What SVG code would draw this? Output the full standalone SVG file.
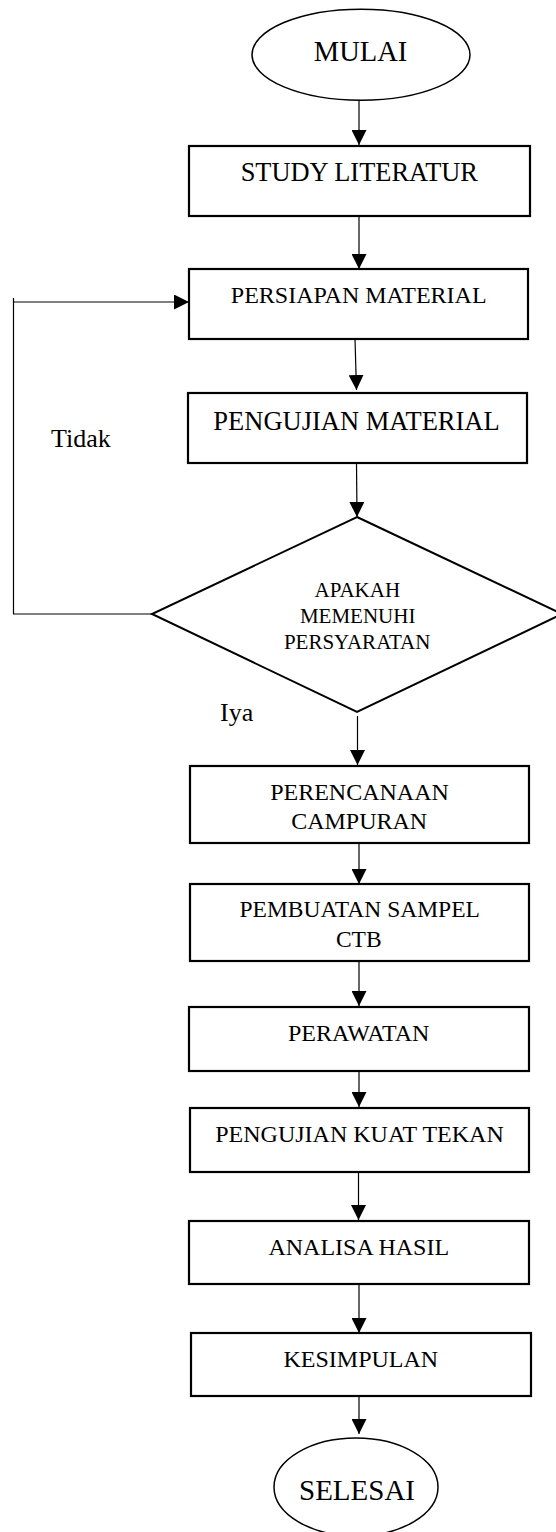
<svg xmlns="http://www.w3.org/2000/svg" width="556" height="1532" viewBox="0 0 556 1532">
<style>
  .box { fill: #fff; stroke: #000; stroke-width: 2.2; }
  .term { fill: #fff; stroke: #000; stroke-width: 1.5; }
  .dia { fill: #fff; stroke: #000; stroke-width: 2; }
  .con { fill: none; stroke: #000; stroke-width: 1.2; }
  .t { font-family: "Liberation Serif", "Times New Roman", serif; fill: #000; text-anchor: middle; }
  .lbl { font-family: "Liberation Serif", "Times New Roman", serif; fill: #000; font-size: 26px; }
</style>
<defs>
  <marker id="arr" markerUnits="userSpaceOnUse" markerWidth="15" markerHeight="15" refX="15" refY="7.5" orient="auto" viewBox="0 0 15 15">
    <path d="M0,0 L15,7.5 L0,15 Z" fill="#000"/>
  </marker>
</defs>
<rect width="556" height="1532" fill="#fff"/>

<g id="connectors">
  <line class="con" x1="359" y1="100" x2="359" y2="145" marker-end="url(#arr)"/>
  <line class="con" x1="359" y1="216" x2="359" y2="269" marker-end="url(#arr)"/>
  <line class="con" x1="355" y1="339" x2="356.5" y2="390" marker-end="url(#arr)"/>
  <line class="con" x1="356.5" y1="463" x2="357" y2="517" marker-end="url(#arr)"/>
  <line class="con" x1="357.5" y1="716" x2="357.5" y2="765" marker-end="url(#arr)"/>
  <line class="con" x1="359" y1="843" x2="359" y2="884" marker-end="url(#arr)"/>
  <line class="con" x1="359" y1="961" x2="359" y2="1006" marker-end="url(#arr)"/>
  <line class="con" x1="359" y1="1071" x2="359" y2="1107" marker-end="url(#arr)"/>
  <line class="con" x1="358.5" y1="1172" x2="358.5" y2="1220" marker-end="url(#arr)"/>
  <line class="con" x1="359" y1="1284" x2="359" y2="1333" marker-end="url(#arr)"/>
  <line class="con" x1="359" y1="1396" x2="359" y2="1434" marker-end="url(#arr)"/>
  <polyline class="con" points="152,614 13.5,614 13.5,298"/>
  <line class="con" x1="13.5" y1="302" x2="189" y2="302" marker-end="url(#arr)"/>
  <text class="lbl" x="51" y="447">Tidak</text>
  <text class="lbl" x="220" y="721">Iya</text>
</g>

<g id="mulai">
  <ellipse class="term" cx="361" cy="54.7" rx="109" ry="45.5"/>
  <text class="t" x="360.5" y="61" font-size="28.5">MULAI</text>
</g>

<g id="study">
  <rect class="box" x="189" y="146" width="341" height="70"/>
  <text class="t" x="359.3" y="181" font-size="26.4">STUDY LITERATUR</text>
</g>

<g id="persiapan">
  <rect class="box" x="189" y="269" width="339" height="70"/>
  <text class="t" x="358.7" y="303" font-size="24">PERSIAPAN MATERIAL</text>
</g>

<g id="pengujian">
  <rect class="box" x="188" y="393" width="339" height="70"/>
  <text class="t" x="356.5" y="430" font-size="26.5">PENGUJIAN MATERIAL</text>
</g>

<g id="keputusan">
  <polygon class="dia" points="357,517 562,614 357,712 152,614"/>
  <text class="t" x="357.3" y="596.7" font-size="21">APAKAH</text>
  <text class="t" x="357.7" y="623.3" font-size="21">MEMENUHI</text>
  <text class="t" x="357.2" y="649.3" font-size="21">PERSYARATAN</text>
</g>

<g id="perencanaan">
  <rect class="box" x="190" y="766" width="339" height="77"/>
  <text class="t" x="359.5" y="800" font-size="24">PERENCANAAN</text>
  <text class="t" x="359.2" y="828.7" font-size="24">CAMPURAN</text>
</g>

<g id="pembuatan">
  <rect class="box" x="190" y="884" width="339" height="77"/>
  <text class="t" x="359.7" y="917.3" font-size="23.5">PEMBUATAN SAMPEL</text>
  <text class="t" x="358.8" y="946.7" font-size="23.5">CTB</text>
</g>

<g id="perawatan">
  <rect class="box" x="189" y="1007" width="340" height="64"/>
  <text class="t" x="358.7" y="1041" font-size="24">PERAWATAN</text>
</g>

<g id="kuat-tekan">
  <rect class="box" x="190" y="1108" width="339" height="64"/>
  <text class="t" x="359.5" y="1141.7" font-size="24">PENGUJIAN KUAT TEKAN</text>
</g>

<g id="analisa">
  <rect class="box" x="189" y="1221" width="340" height="63"/>
  <text class="t" x="358.8" y="1255" font-size="24">ANALISA HASIL</text>
</g>

<g id="kesimpulan">
  <rect class="box" x="191" y="1333" width="340" height="63"/>
  <text class="t" x="360.8" y="1366.7" font-size="24">KESIMPULAN</text>
</g>

<g id="selesai">
  <ellipse class="term" cx="356" cy="1487" rx="82" ry="49"/>
  <text class="t" x="357" y="1500" font-size="29">SELESAI</text>
</g>
</svg>
